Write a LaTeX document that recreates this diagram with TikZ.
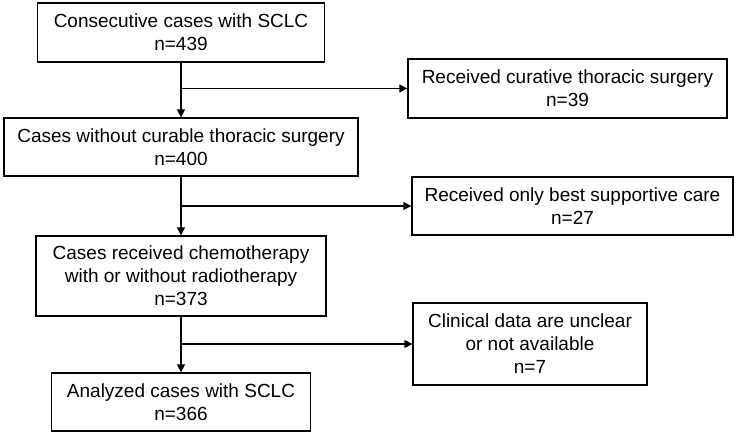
\documentclass[tikz,border=0pt]{standalone}
\usepackage{fontspec}
\setmainfont{Liberation Sans}
\usetikzlibrary{arrows.meta}
\begin{document}
\begin{tikzpicture}[x=1pt,y=-1pt,
  box/.style={draw=black,line width=1.3pt,rectangle,align=center,inner sep=0pt,
    font=\fontsize{19pt}{23pt}\selectfont},
  arr/.style={line width=1.3pt,-{Triangle[length=8pt,width=8pt]}}]
\useasboundingbox (0,0) rectangle (737,435);
\node[box,minimum width=287pt,minimum height=59pt] (b1) at (181,32.5) {Consecutive cases with SCLC\\n=439};
\node[box,minimum width=319pt,minimum height=59pt] (b2) at (567.5,88.5) {Received curative thoracic surgery\\n=39};
\node[box,minimum width=354pt,minimum height=58pt] (b3) at (181,147) {Cases without curable thoracic surgery\\n=400};
\node[box,minimum width=321pt,minimum height=58pt] (b4) at (572.5,206) {Received only best supportive care\\n=27};
\node[box,minimum width=290pt,minimum height=80pt] (b5) at (181,276) {Cases received chemotherapy\\with or without radiotherapy\\n=373};
\node[box,minimum width=234pt,minimum height=82pt] (b6) at (530,344) {Clinical data are unclear\\or not available\\n=7};
\node[box,minimum width=259pt,minimum height=58pt] (b7) at (181,402) {Analyzed cases with SCLC\\n=366};
\coordinate (j1) at (b1.south |- b2.west);
\coordinate (j2) at (b3.south |- b4.west);
\coordinate (j3) at (b5.south |- b6.west);
\draw[arr] (b1.south) -- (b3.north);
\draw[arr] (j1) -- (b2.west);
\draw[arr] (b3.south) -- (b5.north);
\draw[arr] (j2) -- (b4.west);
\draw[arr] (b5.south) -- (b7.north);
\draw[arr] (j3) -- (b6.west);
\end{tikzpicture}
\end{document}
